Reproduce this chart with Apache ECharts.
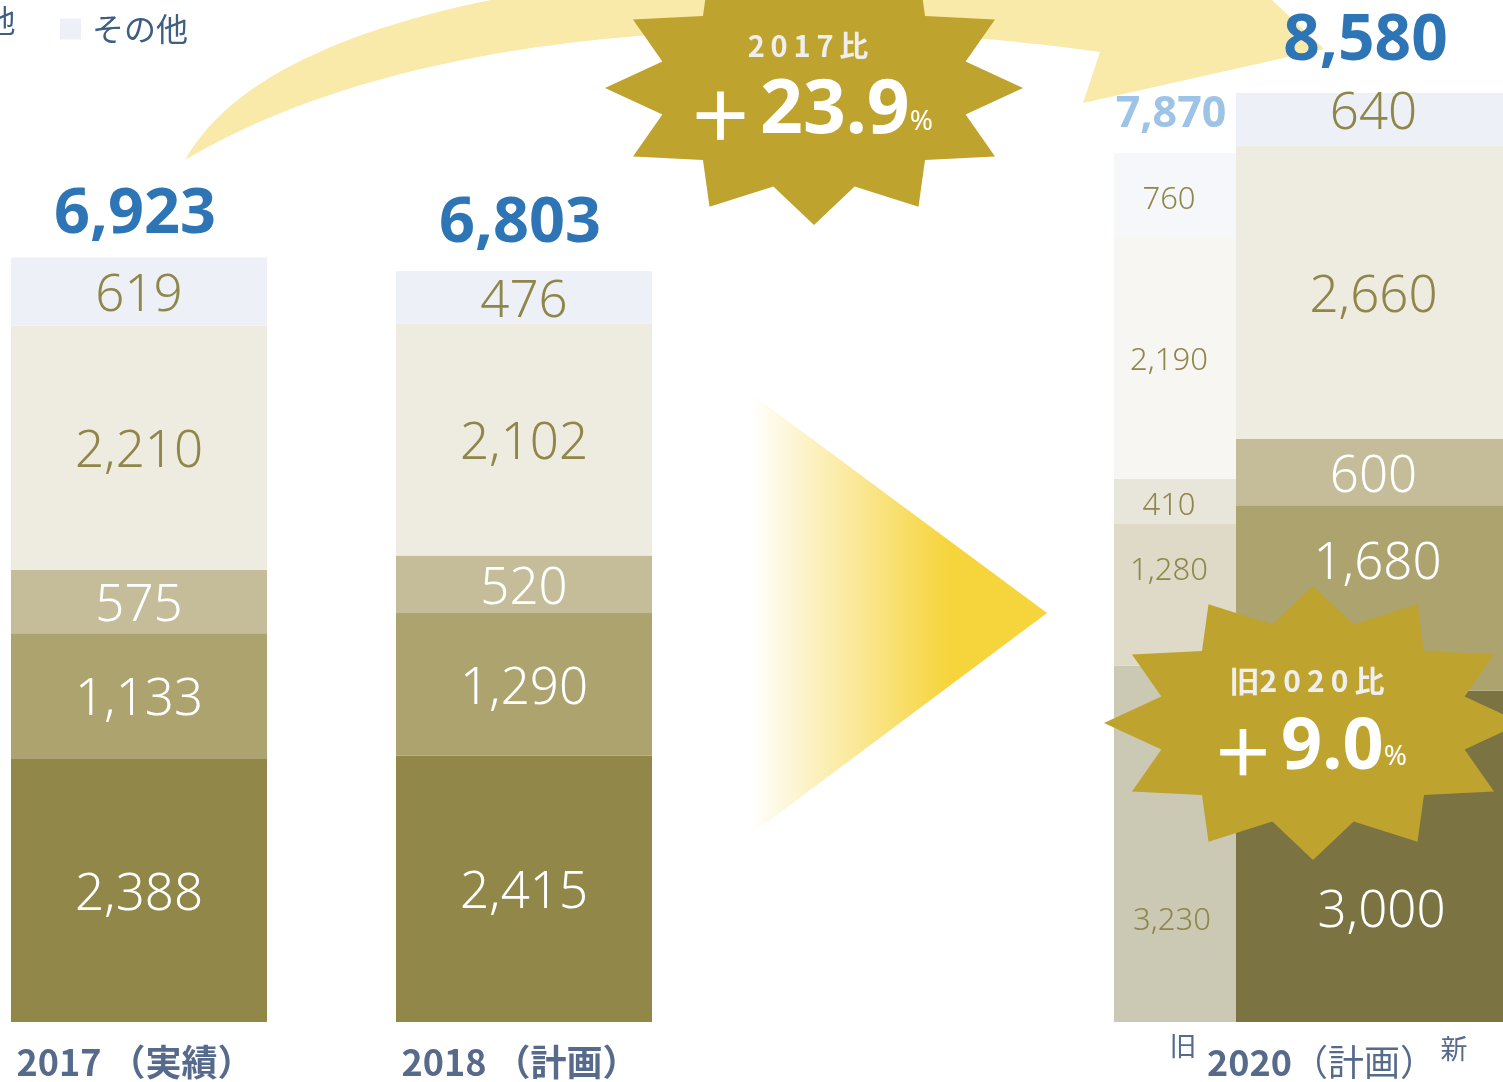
<!DOCTYPE html>
<html><head><meta charset="utf-8">
<script src="https://cdn.jsdelivr.net/npm/echarts@6/dist/echarts.min.js"></script>
<style>html,body{margin:0;padding:0;background:#fff;overflow:hidden}#c{width:1503px;height:1082px}</style>
</head><body><div id="c"></div>
<script>
// ---------------- data ----------------
const years = ['2017', '2018', '2020'];
const yearNotes = ['（実績）', '（計画）', '（計画）'];
const segmentNames = ['区分1', '区分2', '区分3', '区分4', 'その他'];
const seg1 = [2388, 2415, 3000];
const seg2 = [1133, 1290, 1680];
const seg3 = [575, 520, 600];
const seg4 = [2210, 2102, 2660];
const segOther = [619, 476, 640];
const totals = [6923, 6803, 8580];
const old2020 = [3230, 1280, 410, 2190, 760];
const old2020Total = 7870;
const growthVs2017 = '23.9';
const growthVsOld2020 = '9.0';
const legendNames = ['その他'];

// ---------------- styles ----------------
const THIN = "'Noto Sans', sans-serif";
const BOLD = "'Noto Sans', sans-serif";
const CJK = "'Noto Sans CJK JP', sans-serif";
const segs = [seg1, seg2, seg3, seg4, segOther];
const segColors = [['#908749', '#908749', '#7b7341'], '#ada36f', '#c5bd99', '#eeebe1', '#eef0f8'];
const oldColors = ['#cbc8b4', '#dfdac7', '#e8e5da', '#f7f6f2', '#f6f7fb'];
const labelColors = ['#ffffff', '#ffffff', '#ffffff', '#8f8749', '#8f8749'];
const OLIVE = '#8f8749';
const NUDGE_MAIN = [[[0, 5], [0, 5], [0, 5], [0, 5], [0, 5]], [[0, 5], [0, 5], [0, 5], [0, 5], [0, 5]],
  [[12, 56], [8, -34], [4, 5], [4, 5], [4, -5]]];
const NUDGE_OLD = [[-3, 77], [-6, -24], [-6, 5], [-6, 3], [-6, 5]];
const AXIS_COLOR = '#566a8c';
const fmt = v => Number(v).toLocaleString('en-US');

const Y_MAX = 8415;
const grids = [
  { left: 11, width: 256, top: 93, height: 929 },
  { left: 396, width: 256, top: 93, height: 929 },
  { left: 1114, width: 389, top: 93, height: 929 }
];

const xAxes = grids.map((g, i) => ({
  type: 'category', gridIndex: i, data: [years[i]],
  axisLine: { show: false }, axisTick: { show: false }, splitLine: { show: false },
  axisLabel: i < 2 ? {
    margin: 22, color: AXIS_COLOR, fontFamily: CJK, fontSize: 36, fontWeight: 'bold',
    formatter: () => years[i] + ' ' + yearNotes[i], padding: [0, 8, 0, 0]
  } : {
    margin: 22, formatter: () => '{y|' + years[i] + '}{n|' + yearNotes[i] + '}',
    padding: [0, 0, 0, 26],
    rich: {
      y: { color: AXIS_COLOR, fontFamily: CJK, fontSize: 36, fontWeight: 'bold' },
      n: { color: AXIS_COLOR, fontFamily: CJK, fontSize: 36, fontWeight: 'normal' }
    }
  }
}));
const yAxes = grids.map((g, i) => ({ type: 'value', gridIndex: i, min: 0, max: Y_MAX, show: false }));

const series = [];
function pushSeg(g, s, value, color, stack, width, lblSize, lblColor, nudge) {
  series.push({
    type: 'bar', name: segmentNames[s], xAxisIndex: g, yAxisIndex: g, stack: stack,
    barWidth: width, barCategoryGap: '0%', barGap: '0%', silent: true,
    data: [value], itemStyle: { color: color },
    label: { show: true, position: 'inside', formatter: () => fmt(value), fontSize: lblSize,
      fontFamily: THIN, fontWeight: 300, color: lblColor, offset: nudge }
  });
}
function pushTotal(g, stack, width, value, size, color, distance) {
  series.push({
    type: 'bar', name: '合計', xAxisIndex: g, yAxisIndex: g, stack: stack,
    barWidth: width, barCategoryGap: '0%', barGap: '0%', silent: true, clip: false,
    data: [0], itemStyle: { color: 'rgba(0,0,0,0)' },
    label: { show: true, position: 'top', distance: distance, formatter: () => fmt(value),
      fontSize: size, fontWeight: 'bold', fontFamily: BOLD, color: color, offset: [-4, 0] }
  });
}
// 2017, 2018 (each its own stack)
for (let g = 0; g < 2; g++) {
  for (let s = 0; s < 5; s++) {
    pushSeg(g, s, segs[s][g], s === 0 ? segColors[0][g] : segColors[s], 'y' + g, undefined, 51, labelColors[s], NUDGE_MAIN[g][s]);
  }
  pushTotal(g, 'y' + g, undefined, totals[g], 63, '#2e75b6', g === 0 ? 11 : 15);
}
// 2020: old plan (left, narrow) then new plan
for (let s = 0; s < 5; s++) {
  pushSeg(2, s, old2020[s], oldColors[s], 'old2020', 122, 31, OLIVE, NUDGE_OLD[s]);
}
pushTotal(2, 'old2020', 122, old2020Total, 43, '#9dc3e6', 17);
for (let s = 0; s < 5; s++) {
  pushSeg(2, s, segs[s][2], s === 0 ? segColors[0][2] : segColors[s], 'new2020', 267, 51, labelColors[s], NUDGE_MAIN[2][s]);
}
pushTotal(2, 'new2020', 267, totals[2], 64, '#2e75b6', 1);

// ---------------- decorations ----------------
function cubic(p0, p1, p2, p3, n) {
  const pts = [];
  for (let i = 0; i <= n; i++) {
    const t = i / n, u = 1 - t;
    const a = u * u * u, b = 3 * u * u * t, c = 3 * u * t * t, d = t * t * t;
    pts.push([a * p0[0] + b * p1[0] + c * p2[0] + d * p3[0], a * p0[1] + b * p1[1] + c * p2[1] + d * p3[1]]);
  }
  return pts;
}
function starPoints(cx, cy, rx, ry, irx, iry, n) {
  const pts = [];
  for (let i = 0; i < 2 * n; i++) {
    const ang = Math.PI * i / n, outer = i % 2 === 0;
    pts.push([cx + (outer ? rx : irx) * Math.cos(ang), cy + (outer ? ry : iry) * Math.sin(ang)]);
  }
  return pts;
}
const arrowPts = []
  .concat(cubic([185, 160], [280, -10], [700, -60], [1240, -30], 60))
  .concat([[1324, 49], [1083, 103], [1100, 52]])
  .concat(cubic([1100, 52], [800, 10], [420, 20], [185, 160], 60));

const STAR = '#bea32e';
const bigRich = (size) => ({
  p: { fontFamily: CJK, fontWeight: 'bold', fontSize: size - 8, fill: '#ffffff', verticalAlign: 'bottom', lineHeight: size, padding: [0, 6, 0, 0] },
  n: { fontFamily: BOLD, fontWeight: 'bold', fontSize: size, fill: '#ffffff', verticalAlign: 'bottom', lineHeight: size },
  s: { fontFamily: BOLD, fontWeight: 'normal', fontSize: 28, fill: '#ffffff', verticalAlign: 'bottom', lineHeight: 28, padding: [0, 0, 13, 0] }
});

const graphic = [
  { type: 'polygon', z: 1, silent: true, shape: { points: arrowPts }, style: { fill: '#f9eaa9' } },
  { type: 'polygon', z: 1, silent: true, shape: { points: [[750, 393], [750, 835], [1047, 613]] },
    style: { fill: new echarts.graphic.LinearGradient(0, 0, 1, 0, [
      { offset: 0, color: 'rgba(246,212,59,0)' }, { offset: 0.67, color: 'rgba(246,212,59,1)' }, { offset: 1, color: 'rgba(246,212,59,1)' }]) } },
  { type: 'polygon', z: 50, silent: true, shape: { points: starPoints(814, 88, 209, 137, 157, 102, 12) }, style: { fill: STAR } },
  { type: 'polygon', z: 50, silent: true, shape: { points: starPoints(1313, 723, 209, 137, 157, 102, 12) }, style: { fill: STAR } },
  { type: 'text', z: 51, silent: true, x: 808, y: 46,
    style: { text: '2\u20090\u20091\u20097\u2009比', fontFamily: CJK, fontWeight: 'bold', fontSize: 29, fill: '#efefef', align: 'center', verticalAlign: 'middle' } },
  { type: 'text', z: 51, silent: true, x: 810, y: 112,
    style: { text: '{p|＋}{n|' + growthVs2017 + '}{s|%}', rich: bigRich(75), align: 'center', verticalAlign: 'middle' } },
  { type: 'text', z: 51, silent: true, x: 1307, y: 681,
    style: { text: '旧2\u20090\u20092\u20090\u2009比', fontFamily: CJK, fontWeight: 'bold', fontSize: 30, fill: '#efefef', align: 'center', verticalAlign: 'middle' } },
  { type: 'text', z: 51, silent: true, x: 1309, y: 748,
    style: { text: '{p|＋}{n|' + growthVsOld2020 + '}{s|%}', rich: bigRich(72), align: 'center', verticalAlign: 'middle' } },
  { type: 'text', z: 51, silent: true, x: 1183, y: 1046,
    style: { text: '旧', fontFamily: CJK, fontSize: 27, fill: AXIS_COLOR, align: 'center', verticalAlign: 'middle' } },
  { type: 'text', z: 51, silent: true, x: 1454, y: 1049,
    style: { text: '新', fontFamily: CJK, fontSize: 27, fill: AXIS_COLOR, align: 'center', verticalAlign: 'middle' } },
  { type: 'text', z: 51, silent: true, x: 0, y: 20,
    style: { text: '他', fontFamily: CJK, fontSize: 31, fill: '#3e5f80', align: 'center', verticalAlign: 'middle' } }
];

const chart = echarts.init(document.getElementById('c'), null, { renderer: 'canvas' });
chart.setOption({
  animation: false,
  backgroundColor: '#ffffff',
  legend: {
    data: legendNames, left: 55, top: 8, icon: 'rect', itemWidth: 21, itemHeight: 21,
    selectedMode: false,
    textStyle: { fontSize: 32, color: '#3e5f80', fontFamily: CJK, padding: [0, 0, 40, 6] }
  },
  tooltip: { show: false },
  grid: grids,
  xAxis: xAxes,
  yAxis: yAxes,
  series: series,
  graphic: graphic
});
</script>
</body></html>
